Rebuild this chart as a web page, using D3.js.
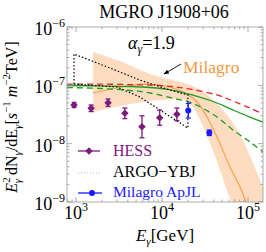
<!DOCTYPE html>
<html>
<head>
<meta charset="utf-8">
<script src="https://cdn.jsdelivr.net/npm/d3@7"></script>
<style>
  body { margin: 0; background: #fff; }
  text { font-family: "Liberation Serif", "Times New Roman", serif; }
</style>
</head>
<body>
<script>
// HESS points (GeV, TeV m^-2 s^-1)
var hessE = [950, 1500, 2360, 3700, 5850, 9400, 14900];
var hessF = [4.60e-8, 4.04e-8, 5.04e-8, 3.31e-8, 1.95e-8, 2.79e-8, 3.18e-8];
var hessLo = [4.17e-8, 3.55e-8, 4.35e-8, 2.69e-8, 1.26e-8, 2.07e-8, 2.48e-8];
var hessHi = [5.08e-8, 4.60e-8, 5.83e-8, 4.08e-8, 3.01e-8, 3.75e-8, 4.08e-8];

// Milagro ApJL points
var milE = [20200, 35500];
var milF = [3.71e-8, 1.54e-8];
var milLo = [2.75e-8, 1.38e-8];
var milHi = [4.89e-8, 1.71e-8];

// ARGO-YBJ bow tie
var argoUpE = [948, 2485, 5543, 12390, 20000];
var argoUpF = [3.44e-7, 1.98e-7, 1.23e-7, 8.31e-8, 6.83e-8];
var argoLowE = [948, 2999, 5543, 9484, 20000];
var argoLowF = [1.05e-7, 9.36e-8, 6.31e-8, 3.78e-8, 1.85e-8];

// Milagro band + fit line
var bandUpE = [1578, 3251, 7244, 16190, 24190, 36140, 57020, 80720, 114300, 149300, 180200];
var bandUpF = [3.73e-7, 2.61e-7, 1.56e-7, 1.14e-7, 9.36e-8, 6.31e-8, 3.10e-8, 1.41e-8, 4.66e-9, 1.74e-9, 8.9e-10];
var bandLowE = [1578, 3715, 9484, 19540, 27670, 36140, 47210, 65170, 80720];
var bandLowF = [3.49e-8, 4.60e-8, 5.61e-8, 5.38e-8, 2.55e-8, 1.03e-8, 3.53e-9, 8.9e-10, 4.04e-10];
var fitE = [1578, 3428, 6339, 12390, 18500, 25520, 33350, 43630, 61800, 80720, 97290];
var fitF = [7.39e-8, 9.36e-8, 1.05e-7, 9.36e-8, 7.39e-8, 5.18e-8, 2.86e-8, 1.30e-8, 3.98e-9, 1.81e-9, 8.9e-10];

// model curves
var modelE = [785, 1901, 4246, 7244, 13060, 22340, 43630, 66980, 105400, 149300];
var redF = [1.05e-7, 1.05e-7, 1.03e-7, 1.01e-7, 9.55e-8, 8.49e-8, 6.83e-8, 5.38e-8, 4.09e-8, 3.22e-8];
var greenF = [9.93e-8, 9.75e-8, 9.55e-8, 9.18e-8, 8.31e-8, 6.83e-8, 4.98e-8, 3.78e-8, 2.86e-8, 2.35e-8];
var greenDashF = [9.18e-8, 8.83e-8, 8.15e-8, 7.39e-8, 6.07e-8, 4.98e-8, 2.86e-8, 1.71e-8, 1.07e-8, 7.19e-9];

var xTicks = [3, 4, 5];
var yTicks = [-9, -8, -7, -6];

var svg = d3.select('body').append('svg')
    .attr('width', 266)
    .attr('height', 252);

var L = 67, R = 263, T = 27, B = 202;

var x = d3.scaleLog()
    .domain([Math.pow(10, 3 - 9 / 86), Math.pow(10, 5 + 15 / 86)])
    .range([L, R]);
var y = d3.scaleLog()
    .domain([1e-9, 1e-6])
    .range([B, T]);

svg.append('clipPath').attr('id', 'clip')
  .append('rect').attr('x', L).attr('y', T).attr('width', R - L).attr('height', B - T);

var plot = svg.append('g').attr('clip-path', 'url(#clip)');

function pts(es, fs) {
    return es.map(function(e, i) { return [e, fs[i]]; });
}

var smooth = d3.line()
    .x(function(d) { return x(d[0]); })
    .y(function(d) { return y(d[1]); })
    .curve(d3.curveCatmullRom);
var straight = d3.line()
    .x(function(d) { return x(d[0]); })
    .y(function(d) { return y(d[1]); });

// band
var up = smooth(pts(bandUpE, bandUpF));
var low = smooth(pts(bandLowE, bandLowF).reverse()).replace(/^M/, 'L');
plot.append('path')
    .attr('d', up + low + 'Z')
    .attr('fill', '#fddcc0');

plot.append('path')
    .attr('d', smooth(pts(fitE, fitF)))
    .attr('fill', 'none')
    .attr('stroke', '#f5a24c')
    .attr('stroke-width', 1.2);

// models
plot.append('path')
    .attr('d', smooth(pts(modelE, redF)))
    .attr('fill', 'none').attr('stroke', '#e8232b').attr('stroke-width', 1.3)
    .attr('stroke-dasharray', '6,4');
plot.append('path')
    .attr('d', smooth(pts(modelE, greenF)))
    .attr('fill', 'none').attr('stroke', '#1c9c1c').attr('stroke-width', 1.3);
plot.append('path')
    .attr('d', smooth(pts(modelE, greenDashF)))
    .attr('fill', 'none').attr('stroke', '#1c9c1c').attr('stroke-width', 1.3)
    .attr('stroke-dasharray', '6,4');

// ARGO bow tie
var argoPts = pts(argoLowE, argoLowF).concat(pts(argoUpE, argoUpF).reverse());
argoPts.push(argoPts[0]);
plot.append('path')
    .attr('d', straight(argoPts))
    .attr('fill', 'none').attr('stroke', '#000').attr('stroke-width', 1.2)
    .attr('stroke-dasharray', '1.5,2');

// error bars
function errBars(es, fs, lo, hi, col) {
    var g = plot.append('g').attr('stroke', col).attr('stroke-width', 1.3);
    es.forEach(function(e, i) {
        var cx = x(e);
        g.append('line').attr('x1', cx).attr('x2', cx).attr('y1', y(lo[i])).attr('y2', y(hi[i]));
        g.append('line').attr('x1', cx - 2.5).attr('x2', cx + 2.5).attr('y1', y(lo[i])).attr('y2', y(lo[i]));
        g.append('line').attr('x1', cx - 2.5).attr('x2', cx + 2.5).attr('y1', y(hi[i])).attr('y2', y(hi[i]));
    });
}
errBars(hessE, hessF, hessLo, hessHi, '#7d1a7d');
errBars(milE, milF, milLo, milHi, '#1a1aff');

var diamond = d3.symbol().type(d3.symbolDiamond2).size(36);
plot.selectAll('.hess').data(hessE).enter().append('path')
    .attr('d', diamond)
    .attr('transform', function(d, i) { return 'translate(' + x(d) + ',' + y(hessF[i]) + ')'; })
    .attr('fill', '#7d1a7d');
plot.selectAll('.mil').data(milE).enter().append('circle')
    .attr('cx', function(d) { return x(d); })
    .attr('cy', function(d, i) { return y(milF[i]); })
    .attr('r', 3)
    .attr('fill', '#1a1aff');

// frame and ticks
var frame = svg.append('g').attr('stroke', '#999').attr('stroke-width', 0.8);
frame.append('rect').attr('x', L).attr('y', T).attr('width', R - L).attr('height', B - T).attr('fill', 'none');

var xMinor = [], yMinor = [];
for (var p = 2; p <= 5; p++) {
    for (var m = 1; m < 10; m++) {
        var v = m * Math.pow(10, p);
        if (v >= x.domain()[0] && v <= x.domain()[1]) xMinor.push([v, m == 1]);
    }
}
for (var q = -9; q <= -7; q++) {
    for (var k = 1; k < 10; k++) yMinor.push([k * Math.pow(10, q), k == 1]);
}
yMinor.push([1e-6, true]);

xMinor.forEach(function(t) {
    var len = t[1] ? 5 : 2.5;
    frame.append('line').attr('x1', x(t[0])).attr('x2', x(t[0])).attr('y1', B).attr('y2', B - len);
    frame.append('line').attr('x1', x(t[0])).attr('x2', x(t[0])).attr('y1', T).attr('y2', T + len);
});
yMinor.forEach(function(t) {
    var len = t[1] ? 5 : 2.5;
    frame.append('line').attr('y1', y(t[0])).attr('y2', y(t[0])).attr('x1', L).attr('x2', L + len);
    frame.append('line').attr('y1', y(t[0])).attr('y2', y(t[0])).attr('x1', R).attr('x2', R - len);
});

// tick labels
xTicks.forEach(function(p) {
    var t = svg.append('text').attr('x', x(Math.pow(10, p))).attr('y', 219)
        .attr('text-anchor', 'middle').attr('font-size', 18);
    t.append('tspan').text('10');
    t.append('tspan').attr('dy', -8).attr('font-size', 12).text(p);
});
yTicks.forEach(function(p) {
    var t = svg.append('text').attr('x', 65).attr('y', y(Math.pow(10, p)) + 8)
        .attr('text-anchor', 'end').attr('font-size', 18);
    t.append('tspan').text('10');
    t.append('tspan').attr('dy', -8).attr('font-size', 12).text('\u2212' + (-p));
});

// title and labels
svg.append('text').attr('x', 164).attr('y', 18).attr('text-anchor', 'middle')
    .attr('font-size', 18).text('MGRO J1908+06');

var al = svg.append('text').attr('x', 128).attr('y', 49).attr('font-size', 18);
al.append('tspan').attr('font-style', 'italic').text('\u03b1');
al.append('tspan').attr('dy', 4).attr('font-size', 12).attr('font-style', 'italic').text('\u03b3');
al.append('tspan').attr('dy', -4).text('=1.9');

svg.append('text').attr('x', 183).attr('y', 73).attr('font-size', 17.5)
    .attr('fill', '#f29a40').text('Milagro');

svg.append('defs').append('marker').attr('id', 'arr')
    .attr('viewBox', '0 0 10 10').attr('refX', 9).attr('refY', 5)
    .attr('markerWidth', 6).attr('markerHeight', 6).attr('orient', 'auto')
  .append('path').attr('d', 'M0,1L10,5L0,9Z').attr('fill', '#000');
svg.append('line').attr('x1', 181).attr('y1', 64).attr('x2', 164).attr('y2', 74)
    .attr('stroke', '#000').attr('stroke-width', 0.9).attr('marker-end', 'url(#arr)');

// legend
var lg = svg.append('g');
lg.append('line').attr('x1', 78).attr('x2', 100).attr('y1', 151).attr('y2', 151)
    .attr('stroke', '#7d1a7d').attr('stroke-width', 1.3);
lg.append('path').attr('d', diamond).attr('transform', 'translate(89,151)').attr('fill', '#7d1a7d');
lg.append('text').attr('x', 113).attr('y', 156).attr('font-size', 16).attr('fill', '#7d1a7d').text('HESS');

lg.append('line').attr('x1', 78).attr('x2', 102).attr('y1', 173).attr('y2', 173)
    .attr('stroke', '#bbb').attr('stroke-width', 1).attr('stroke-dasharray', '1,2');
lg.append('text').attr('x', 113).attr('y', 177).attr('font-size', 16).attr('fill', '#000').text('ARGO\u2212YBJ');

lg.append('line').attr('x1', 78).attr('x2', 102).attr('y1', 193).attr('y2', 193)
    .attr('stroke', '#1a1aff').attr('stroke-width', 1.3);
lg.append('circle').attr('cx', 92).attr('cy', 193).attr('r', 3).attr('fill', '#1a1aff');
lg.append('text').attr('x', 113).attr('y', 197).attr('font-size', 15.5).attr('fill', '#1a1aff').text('Milagro ApJL');

// axis titles
var xl = svg.append('text').attr('x', 165).attr('y', 241).attr('text-anchor', 'middle').attr('font-size', 17);
xl.append('tspan').attr('font-style', 'italic').text('E');
xl.append('tspan').attr('dy', 4).attr('font-size', 11).attr('font-style', 'italic').text('\u03b3');
xl.append('tspan').attr('dy', -4).text('[GeV]');

var yl = svg.append('text').attr('transform', 'translate(17,117) rotate(-90)')
    .attr('text-anchor', 'middle').attr('font-size', 16);
yl.append('tspan').attr('font-style', 'italic').text('E');
yl.append('tspan').attr('dy', -7).attr('font-size', 11).text('2');
yl.append('tspan').attr('dx', -6).attr('dy', 11).attr('font-size', 11).attr('font-style', 'italic').text('\u03b3');
yl.append('tspan').attr('dy', -4).text(' dN');
yl.append('tspan').attr('dy', 4).attr('font-size', 11).attr('font-style', 'italic').text('\u03b3');
yl.append('tspan').attr('dy', -4).text('/dE');
yl.append('tspan').attr('dy', 4).attr('font-size', 11).attr('font-style', 'italic').text('\u03b3');
yl.append('tspan').attr('dy', -4).text('[');
yl.append('tspan').attr('font-style', 'italic').text('s');
yl.append('tspan').attr('dy', -7).attr('font-size', 11).text('\u22121');
yl.append('tspan').attr('dy', 7).text(' ');
yl.append('tspan').attr('font-style', 'italic').text('m');
yl.append('tspan').attr('dy', -7).attr('font-size', 11).text('\u22122');
yl.append('tspan').attr('dy', 7).text('TeV]');
</script>
</body>
</html>
